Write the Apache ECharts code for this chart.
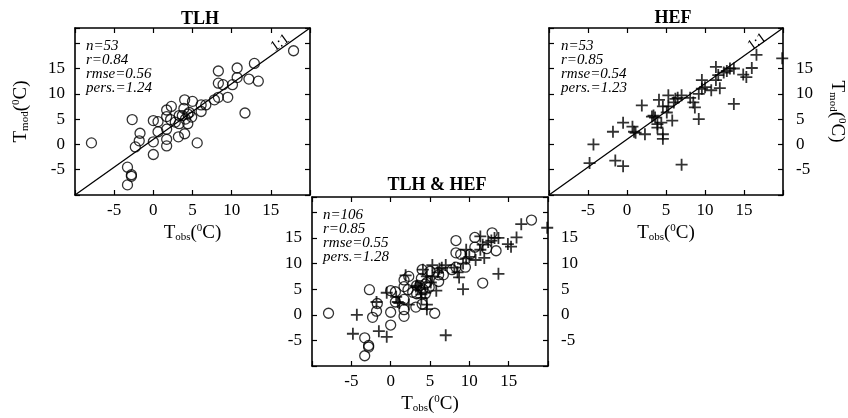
<!DOCTYPE html>
<html>
<head>
<meta charset="utf-8">
<script src="https://cdn.jsdelivr.net/npm/echarts@6/dist/echarts.min.js"></script>
<style>
    html, body {margin:0;padding:0;background:#fff;}
    #main {width:848px;height:418px;}
</style>
</head>
<body>
<div id="main"></div>
<script>
    // TLH stations (circles): observed vs modelled temperature
    var tlhObs = [-7.9, 17.9, 12.9, 10.7, 8.3, 10.7, 12.2, 13.4, 8.3, 8.9, 10.1, 9.5, 8.3, 7.8, 6.7, 6.1, 6.1, 5.0, 4.0,
        11.7, 2.3, 1.7, 1.7, 2.2, 3.9, 4.4, 3.7, 3.3, 4.1, 4.4, 3.3, 0.0, 0.6, -2.7, 0.6, 1.7, 3.2, 4.0, -1.7,
        -1.8, -2.3, 0.0, 1.7, 1.7, 5.6, 0.0, -3.3, -2.8, -2.8, -3.3, 2.8, 4.6, 4.9];
    var tlhMod = [0.3, 18.5, 16.0, 15.1, 14.5, 13.2, 12.9, 12.5, 12.1, 11.8, 11.8, 9.3, 9.3, 8.8, 7.8, 7.8, 6.5, 8.5, 8.8,
        6.2, 7.5, 6.8, 5.5, 4.9, 7.1, 6.0, 5.7, 5.7, 5.0, 4.1, 4.1, 4.7, 4.5, 4.9, 2.5, 3.0, 1.5, 2.1, 2.2,
        0.7, -0.5, 0.5, 1.0, -0.3, 0.3, -2.0, -4.5, -6.0, -6.3, -8.0, 4.4, 6.3, 5.4];

    // HEF stations (crosses)
    var hefObs = [-4.8, -4.3, -1.5, -0.5, -1.8, -0.5, 0.7, 0.9, 1.1, 2.3, 1.9, 3.4, 3.6, 3.9, 3.9, 4.4, 4.6, 4.6,
        5.8, 5.1, 5.3, 4.1, 4.6, 5.3, 6.0, 6.2, 6.5, 7.0, 8.1, 8.5, 8.7, 9.2, 9.6, 9.6, 10.0, 10.8, 11.4, 11.4,
        11.9, 11.7, 12.4, 12.8, 13.2, 13.7, 13.7, 14.9, 15.3, 16.0, 16.6, 19.9, 9.2, 7.0, 3.2];
    var hefMod = [-3.7, 0.0, -3.2, -4.3, 2.5, 4.3, 3.5, 2.5, 2.3, 2.0, 7.7, 5.7, 5.3, 4.0, 3.3, 4.3, 2.0, 1.1,
        4.7, 6.3, 7.5, 8.8, 7.5, 9.7, 8.3, 9.0, 9.2, 9.7, 9.2, 8.3, 7.3, 10.0, 11.0, 12.7, 11.3, 10.7, 12.7, 15.3,
        11.1, 13.7, 14.2, 14.5, 15.0, 15.0, 8.0, 13.8, 13.3, 15.1, 17.7, 17.0, 5.0, -4.0, 5.5];

    // 1:1 reference line, drawn corner to corner as in the figure
    var diagLine = [[-10, -10], [20, 23]];

    var stats = {
        tlh: ['n=53', 'r=0.84', 'rmse=0.56', 'pers.=1.24'],
        hef: ['n=53', 'r=0.85', 'rmse=0.54', 'pers.=1.23'],
        all: ['n=106', 'r=0.85', 'rmse=0.55', 'pers.=1.28']
    };
    var shownTicks = [-5, 0, 5, 10, 15];

    var zip = function (a, b) {
        return a.map(function (v, i) { return [v, b[i]]; });
    };

    var serif = '"Liberation Serif", "DejaVu Serif", serif';
    var plusPath = 'path://M8.5,0h3v8.5h8.5v3h-8.5v8.5h-3v-8.5h-8.5v-3h8.5z';
    var nameRich = {
        t: {fontFamily: serif, fontSize: 19, color: '#000'},
        sub: {fontFamily: serif, fontSize: 11, color: '#000', verticalAlign: 'bottom', padding: [9, 0, 0, 0]},
        sup: {fontFamily: serif, fontSize: 11, color: '#000', verticalAlign: 'top', padding: [0, 0, 8, 0]}
    };
    var obsName = '{t|T}{sub|obs}{t|(}{sup|0}{t|C)}';
    var modName = '{t|T}{sub|mod}{t|(}{sup|0}{t|C)}';

    var tickLabel = function (v) {
        return shownTicks.indexOf(v) >= 0 ? String(v) : '';
    };

    var makeX = function (grid, pos, labels) {
        return {
            type: 'value', gridIndex: grid, position: pos, min: -10, max: 20, interval: 5,
            axisLine: {onZero: false, lineStyle: {color: '#000', width: 1.6}},
            axisTick: {inside: true, length: 5, lineStyle: {color: '#000', width: 1.2}},
            axisLabel: {show: labels, formatter: tickLabel, color: '#000', fontFamily: serif, fontSize: 17, margin: 7},
            splitLine: {show: false},
            name: labels ? obsName : '', nameLocation: 'middle', nameGap: 28,
            nameTextStyle: {rich: nameRich}
        };
    };
    var makeY = function (grid, pos, labels, name) {
        return {
            type: 'value', gridIndex: grid, position: pos, min: -10, max: 23, interval: 5,
            axisLine: {onZero: false, lineStyle: {color: '#000', width: 1.6}},
            axisTick: {inside: true, length: 5, lineStyle: {color: '#000', width: 1.2}},
            axisLabel: {show: labels, formatter: tickLabel, color: '#000', fontFamily: serif, fontSize: 17,
                margin: pos === 'left' ? 10 : 13},
            splitLine: {show: false},
            name: name ? modName : '', nameLocation: 'middle', nameGap: 44,
            nameRotate: pos === 'left' ? 90 : -90,
            nameTextStyle: {rich: nameRich}
        };
    };

    var circleSeries = function (axis, data) {
        return {
            type: 'scatter', xAxisIndex: axis, yAxisIndex: axis, data: data,
            symbol: 'circle', symbolSize: 10,
            itemStyle: {color: 'rgba(0,0,0,0)', borderColor: '#000', borderWidth: 1.3}
        };
    };
    var crossSeries = function (axis, data) {
        return {
            type: 'scatter', xAxisIndex: axis, yAxisIndex: axis, data: data,
            symbol: plusPath, symbolSize: 12,
            itemStyle: {color: '#000'}
        };
    };
    var lineSeries = function (axis) {
        return {
            type: 'line', xAxisIndex: axis, yAxisIndex: axis, data: diagLine,
            symbol: 'none', silent: true,
            lineStyle: {color: '#000', width: 1.3}
        };
    };

    var statText = function (x, y, lines) {
        return {
            type: 'text', left: x, top: y,
            style: {text: lines.join('\n'), font: 'italic 15px ' + serif, lineHeight: 14, fill: '#000'}
        };
    };
    var oneToOne = function (x, y) {
        return {
            type: 'text', x: x, y: y, rotation: 0.62,
            style: {text: '1:1', font: '15px ' + serif, fill: '#000', align: 'center', verticalAlign: 'middle'}
        };
    };

    var tlhData = zip(tlhObs, tlhMod);
    var hefData = zip(hefObs, hefMod);

    var chart = echarts.init(document.getElementById('main'));
    chart.setOption({
        backgroundColor: '#fff',
        animation: false,
        title: [
            {text: 'TLH', left: 195, top: 5, textAlign: 'center',
                textStyle: {fontFamily: serif, fontSize: 18, fontWeight: 'bold', color: '#000'}},
            {text: 'HEF', left: 668, top: 4, textAlign: 'center',
                textStyle: {fontFamily: serif, fontSize: 18, fontWeight: 'bold', color: '#000'}},
            {text: 'TLH & HEF', left: 432, top: 171, textAlign: 'center',
                textStyle: {fontFamily: serif, fontSize: 18, fontWeight: 'bold', color: '#000'}}
        ],
        grid: [
            {left: 75, top: 28, width: 235, height: 167},
            {left: 549, top: 28, width: 237, height: 167},
            {left: 312, top: 197, width: 236, height: 169}
        ],
        xAxis: [
            makeX(0, 'bottom', true), makeX(0, 'top', false),
            makeX(1, 'bottom', true), makeX(1, 'top', false),
            makeX(2, 'bottom', true), makeX(2, 'top', false)
        ],
        yAxis: [
            makeY(0, 'left', true, true), makeY(0, 'right', false, false),
            makeY(1, 'right', true, true), makeY(1, 'left', false, false),
            makeY(2, 'left', true, false), makeY(2, 'right', true, false)
        ],
        series: [
            lineSeries(0), circleSeries(0, tlhData),
            lineSeries(2), crossSeries(2, hefData),
            circleSeries(4, tlhData), crossSeries(4, hefData)
        ],
        graphic: [
            statText(86, 39, stats.tlh),
            statText(561, 39, stats.hef),
            statText(323, 208, stats.all),
            oneToOne(280, 43),
            oneToOne(757, 42)
        ]
    });
</script>
</body>
</html>
